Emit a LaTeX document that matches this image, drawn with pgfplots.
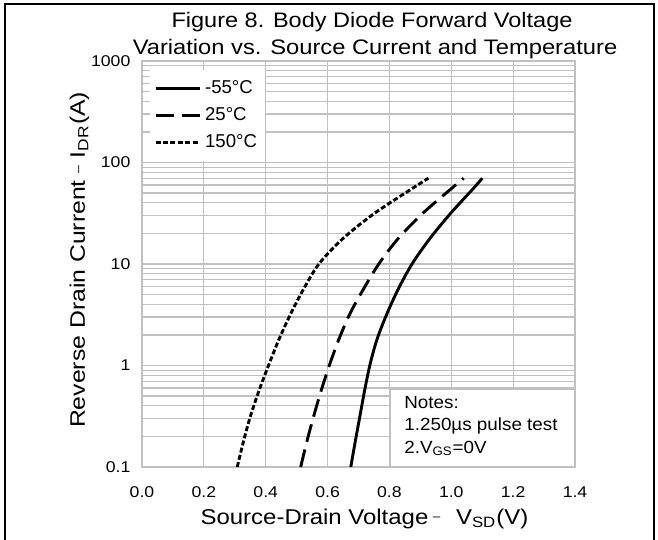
\documentclass[border=0pt]{standalone}
\usepackage{fontspec}
\setmainfont{Liberation Sans}
\usepackage{graphicx}
\usepackage{pgfplots}
\pgfplotsset{compat=1.18}

\definecolor{gridgray}{RGB}{192,192,192}
% the reference text is set a little wider than Arial
\newcommand\sx[1]{\scalebox{1.13}[1]{#1}}

\begin{document}
\begin{tikzpicture}
\useasboundingbox (0,0) rectangle (329pt,270pt);
\begin{axis}[
  at={(71pt,36.5pt)}, anchor=south west,
  scale only axis, width=216.5pt, height=203pt,
  ymode=log,
  xmin=0, xmax=1.4, ymin=0.1, ymax=1000,
  xtick={0,0.2,...,1.4},
  xticklabels={\sx{0.0},\sx{0.2},\sx{0.4},\sx{0.6},\sx{0.8},\sx{1.0},\sx{1.2},\sx{1.4}},
  ytick={0.1,1,10,100,1000},
  yticklabels={\sx{0.1},\sx{1},\sx{10},\sx{100},\sx{1000}},
  tick label style={font=\fontsize{7.8}{9}\selectfont},
  xticklabel style={yshift=-6.5pt},
  yticklabel style={xshift=-2.3pt},
  major tick length=0pt, minor tick length=0pt,
  xmajorgrids, ymajorgrids, yminorgrids,
  grid style={gridgray, line width=0.6pt},
  minor grid style={gridgray, line width=0.6pt},
  axis line style={gridgray, line width=0.6pt},
  xlabel={\scalebox{1.12}[1]{Source-Drain Voltage\hspace{2pt}{\fontsize{6}{6}\selectfont\raisebox{0.5ex}{–}}\hspace{7pt}V\textsubscript{SD}(V)}},
  ylabel={\scalebox{1.18}[1]{Reverse Drain Current\hspace{3pt}{\fontsize{6}{6}\selectfont\raisebox{0.5ex}{–}}\hspace{3pt}I\textsubscript{DR}(A)}},
  xlabel style={font=\fontsize{10.7}{12}\selectfont, at={(axis description cs:0.5,0)}, anchor=base, yshift=-28.5pt, xshift=3pt},
  ylabel style={font=\fontsize{10.5}{12}\selectfont, at={(axis description cs:0,0.51)}, anchor=base, yshift=28.5pt},
  legend style={at={(axis description cs:0.018,0.978)}, anchor=north west,
    draw=none, fill=white, font=\fontsize{9.3}{11}\selectfont,
    row sep=1.6pt, inner xsep=2pt, inner ysep=3pt},
  legend cell align=left,
  legend image code/.code={\draw[#1] (0pt,0pt) -- (22pt,0pt);},
]
\addplot[black, line width=1.45pt, solid, smooth] coordinates {(0.675,0.1) (0.6895,0.178) (0.7045,0.316) (0.7195,0.562) (0.7365,1) (0.759,1.778) (0.7905,3.162) (0.828,5.623) (0.873,10) (0.9305,17.78) (0.998,31.62) (1.073,56.23) (1.10,70)};
\addlegendentry{-55°C}
\addplot[black, line width=1.45pt, smooth, dash pattern=on 9pt off 4pt] coordinates {(0.513,0.1) (0.533,0.178) (0.555,0.316) (0.579,0.562) (0.6055,1) (0.6355,1.778) (0.6705,3.162) (0.7155,5.623) (0.7655,10) (0.828,17.78) (0.908,31.62) (1.003,56.23) (1.040,70)};
\addlegendentry{25°C}
\addplot[black, line width=1.45pt, smooth, dash pattern=on 2.5pt off 1.2pt] coordinates {(0.308,0.1) (0.328,0.178) (0.3505,0.316) (0.378,0.562) (0.409,1) (0.4418,1.778) (0.4793,3.162) (0.5218,5.623) (0.5718,10) (0.6493,17.78) (0.7518,31.62) (0.8768,56.23) (0.926,70)};
\addlegendentry{150°C}
\draw[gridgray, line width=0.6pt, fill=white] (axis description cs:0.573,0) rectangle (axis description cs:1,0.192);
\node[anchor=north west, align=left, inner sep=0pt, font=\fontsize{8.8}{11.25}\selectfont]
  at (axis description cs:0.605,0.175)
  {\scalebox{1.07}[1]{Notes:}\\\scalebox{1.07}[1]{1.250µs pulse test}\\\scalebox{1.07}[1]{2.V\textsubscript{GS}=0V}};
\end{axis}
\node[anchor=base, font=\fontsize{10.5}{12}\selectfont] at (186pt,256pt) {\scalebox{1.12}[1]{Figure 8. Body Diode Forward Voltage}};
\node[anchor=base, font=\fontsize{10.5}{12}\selectfont] at (187.5pt,242.5pt) {\scalebox{1.13}[1]{Variation vs. Source Current and Temperature}};
\draw[line width=1pt] (2.5pt,0pt) -- (2.5pt,268pt) -- (327pt,268pt) -- (327pt,0pt);
\end{tikzpicture}
\end{document}
